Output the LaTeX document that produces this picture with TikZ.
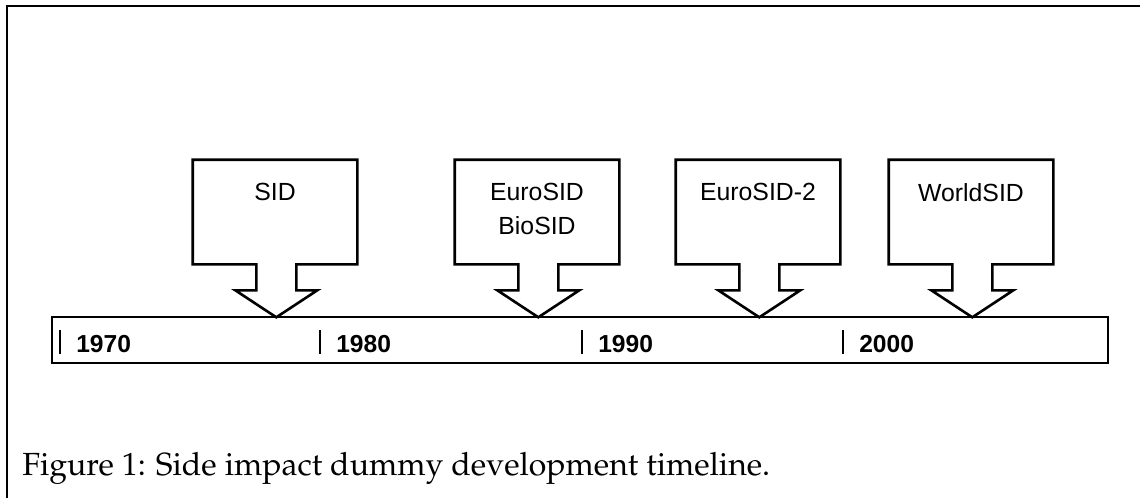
\documentclass[tikz,border=0pt]{standalone}
\usepackage{fontspec}
\setsansfont{Liberation Sans}
\usepackage[T1,TU]{fontenc}

\begin{document}
\begin{tikzpicture}[x=0.5pt,y=-0.5pt,line width=1.3pt,
  callout/.style={minimum width=81pt,minimum height=51pt,inner sep=0pt},
  dummy/.style={font=\sffamily\fontsize{12.4}{17}\selectfont,align=center,anchor=north,inner sep=0pt},
  year/.style={font=\sffamily\bfseries\fontsize{12.3}{14}\selectfont,anchor=base west,inner sep=0pt}]
\useasboundingbox (0,0) rectangle (1140,498);
% frame
\draw[line width=1pt] (7,498)--(7,6)--(1140,6);
% timeline
\node[draw,minimum width=528pt,minimum height=23pt,inner sep=0pt] (bar) at (580,340) {};
\foreach \x/\n/\yr in {60/y70/1970,320/y80/1980,582/y90/1990,843/y00/2000}{
  \draw[line width=1pt] (\x,330)--(\x,354);
  \node[year] (\n) at (\x+15,352) {\yr};
}
% dummies
\foreach \t/\n/\txt in {275/sid/SID,537/euro/{EuroSID\\BioSID},758/eurotwo/EuroSID-2,971/world/WorldSID}{
  \node[callout] (\n) at (\t,212) {};
  \draw (\n.north west)--(\n.north east)--(\n.south east)--++(-61,0)--++(0,26)--++(21,0)
    --++(-41,27)--++(-41,-27)--++(21,0)--++(0,-26)--(\n.south west)--cycle;
  \node[dummy] (\n txt) at (\t,182) {\txt};
}
% caption
\node[anchor=base west,inner sep=0pt,font=\fontencoding{T1}\fontfamily{ppl}\selectfont\fontsize{16}{19}\selectfont] (cap) at (21,475) {Figure 1: Side impact dummy development timeline.};
\end{tikzpicture}
\end{document}
